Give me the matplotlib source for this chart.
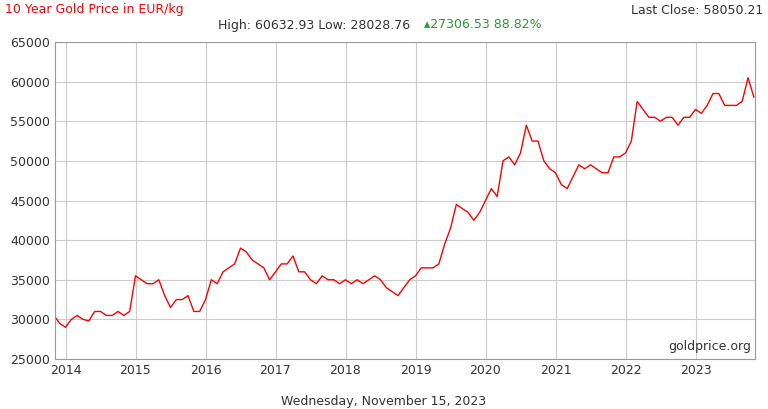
import matplotlib
matplotlib.use("Agg")
import matplotlib.pyplot as plt
import numpy as np

start_year = 2013 + 10/12  # Nov 2013
prices = [30500, 29500,
 29000, 30000, 30500, 30000, 29800, 31000, 31000, 30500, 30500, 31000, 30500, 31000,
 35500, 35000, 34500, 34500, 35000, 33000, 31500, 32500, 32500, 33000, 31000, 31000,
 32500, 35000, 34500, 36000, 36500, 37000, 39000, 38500, 37500, 37000, 36500, 35000,
 36000, 37000, 37000, 38000, 36000, 36000, 35000, 34500, 35500, 35000, 35000, 34500,
 35000, 34500, 35000, 34500, 35000, 35500, 35000, 34000, 33500, 33000, 34000, 35000,
 35500, 36500, 36500, 36500, 37000, 39500, 41500, 44500, 44000, 43500, 42500, 43500,
 45000, 46500, 45500, 50000, 50500, 49500, 51000, 54500, 52500, 52500, 50000, 49000,
 48500, 47000, 46500, 48000, 49500, 49000, 49500, 49000, 48500, 48500, 50500, 50500,
 51000, 52500, 57500, 56500, 55500, 55500, 55000, 55500, 55500, 54500, 55500, 55500,
 56500, 56000, 57000, 58500, 58500, 57000, 57000, 57000, 57500, 60500, 58050]
years = [2014, 2015, 2016, 2017, 2018, 2019, 2020, 2021, 2022, 2023]
yticks = list(range(25000, 65001, 5000))

t = start_year + np.arange(len(prices)) / 12

fig = plt.figure(figsize=(7.68, 4.09), dpi=100)
ax = fig.add_axes([55/768, 1-359/409, 700/768, 317/409])
ax.plot(t, prices, color="#ff0000", lw=1)
ax.set_xlim(2013.85, 2023.85)
ax.set_ylim(25000, 65000)
ax.set_yticks(yticks)
ax.set_yticklabels([str(v) for v in yticks])
ax.set_xticks(years)
ax.set_xticklabels([str(y) for y in years], ha="center")
ax.grid(True, color="#cccccc", lw=0.8)
ax.tick_params(labelsize=9, length=0, colors="#333333")
for s in ax.spines.values():
    s.set_color("#999999")
ax.text(0.995, 0.02, "goldprice.org", transform=ax.transAxes, ha="right", va="bottom", fontsize=9, color="#333333")
fig.text(5/768, 1-10/409, "10 Year Gold Price in EUR/kg", color="#ff0000", fontsize=9, va="center")
fig.text(763/768, 1-10/409, "Last Close: 58050.21", color="#333333", fontsize=9, va="center", ha="right")
fig.text(218/768, 1-25/409, "High: 60632.93 Low: 28028.76", color="#333333", fontsize=9, va="center")
fig.text(424/768, 1-25/409, "\u25b427306.53 88.82%", color="#2a9a2a", fontsize=9, va="center")
fig.text(384/768, 1-401/409, "Wednesday, November 15, 2023", color="#333333", fontsize=9, va="center", ha="center")
fig.savefig("out.png", dpi=100)
